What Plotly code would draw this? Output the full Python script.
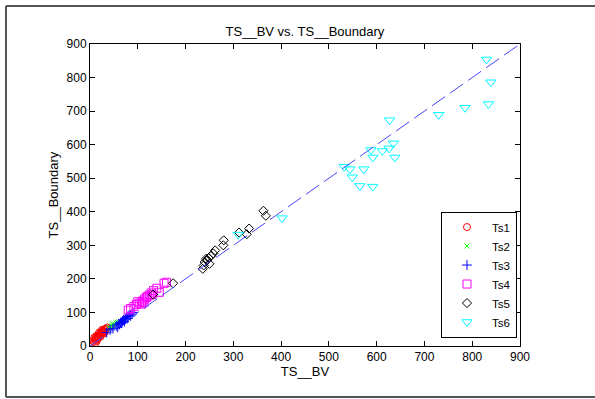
import plotly.graph_objects as go

# ---- data ----
ts1_x = [8, 10, 12, 14, 15, 17, 18, 20, 21, 23, 24, 26, 27, 29, 30, 32, 34, 36, 13, 19, 25, 11, 22, 28, 31, 16, 6, 9]
ts1_y = [12, 18, 22, 15, 28, 25, 32, 30, 38, 35, 42, 40, 46, 44, 50, 48, 52, 55, 30, 40, 48, 8, 28, 37, 42, 20, 15, 25]

ts2_x = [40, 45, 48, 52, 55, 58, 50, 43, 60, 47]
ts2_y = [55, 60, 58, 65, 68, 70, 62, 52, 72, 66]

ts3_x = [35, 42, 48, 55, 60, 64, 68, 70, 74, 76, 80, 82, 85, 88, 62, 72, 78, 66, 90, 58]
ts3_y = [40, 48, 52, 60, 66, 70, 74, 78, 80, 85, 88, 92, 90, 95, 64, 72, 82, 68, 100, 56]

ts4_x = [160, 155, 140, 133, 128, 124, 118, 114, 110, 104, 97, 92, 85, 80, 120, 130, 108, 113, 100, 145]
ts4_y = [190, 187, 172, 165, 158, 152, 144, 140, 134, 128, 124, 118, 112, 107, 148, 153, 125, 130, 132, 160]

ts5_x = [363, 368, 333, 328, 312, 280, 279, 262, 258, 253, 248, 245, 240, 250, 238, 243, 236, 174, 132]
ts5_y = [403, 388, 350, 333, 338, 315, 300, 285, 276, 268, 262, 255, 250, 245, 240, 260, 230, 187, 153]

ts6_x = [830, 839, 834, 785, 730, 627, 635, 626, 612, 588, 592, 638, 573, 532, 544, 549, 565, 592, 310, 402]
ts6_y = [854, 786, 721, 710, 689, 673, 604, 589, 581, 584, 562, 562, 527, 534, 527, 503, 477, 475, 332, 381]

ref_x = [0, 900]
ref_y = [0, 900]

axis_ticks = [0, 100, 200, 300, 400, 500, 600, 700, 800, 900]

series = [
    ("Ts1", ts1_x, ts1_y, "circle-open", "#ff0000", 7),
    ("Ts2", ts2_x, ts2_y, "x-thin-open", "#00ff00", 5),
    ("Ts3", ts3_x, ts3_y, "cross-thin-open", "#0000ff", 7),
    ("Ts4", ts4_x, ts4_y, "square-open", "#ff00ff", 8),
    ("Ts5", ts5_x, ts5_y, "diamond-open", "#000000", 7),
    ("Ts6", ts6_x, ts6_y, "triangle-down-open", "#00ffff", 9),
]

FONT = "Liberation Sans, Arial, sans-serif"

fig = go.Figure()
for name, xs, ys, sym, col, sz in series:
    fig.add_trace(go.Scatter(
        x=xs, y=ys, mode="markers", name=name,
        marker=dict(symbol=sym, color=col, size=sz, line=dict(color=col, width=1)),
    ))

fig.add_trace(go.Scatter(
    x=ref_x, y=ref_y, mode="lines", showlegend=False,
    line=dict(color="rgb(70,70,255)", width=1, dash="16px,6px"),
))

axis_common = dict(
    range=[0, 900], tickvals=axis_ticks, ticktext=[str(t) for t in axis_ticks],
    ticks="inside", ticklen=5, tickcolor="black", tickwidth=1,
    showline=True, linecolor="black", linewidth=1, mirror="ticks",
    showgrid=False, zeroline=False,
    tickfont=dict(family=FONT, size=12, color="black"),
)

x_left = -84 / 430
x_right = 1.3
y_bot = -51 / 302
y_top = 1 + 38 / 302
border = dict(color="#555555", width=2)

fig.update_layout(
    width=595, height=399,
    paper_bgcolor="white", plot_bgcolor="white",
    margin=dict(l=90, r=75, t=44, b=53),
    title=dict(text="TS__BV vs. TS__Boundary", x=0.5125, xanchor="center", y=0.922, yanchor="middle",
               font=dict(family=FONT, size=13, color="black")),
    xaxis=dict(axis_common, title=dict(text="TS__BV", standoff=3,
                                       font=dict(family=FONT, size=13, color="black"))),
    yaxis=dict(axis_common, title=dict(text="TS__Boundary", standoff=5,
                                       font=dict(family=FONT, size=13, color="black"))),
    legend=dict(x=0.993, xanchor="right", y=0.028, yanchor="bottom",
                bgcolor="white", bordercolor="black", borderwidth=1,
                font=dict(family=FONT, size=11.5, color="black"),
                tracegroupgap=0, itemwidth=40),
    shapes=[
        dict(type="line", xref="paper", yref="paper", x0=x_left, x1=x_left, y0=y_bot, y1=y_top, line=border, layer="below"),
        dict(type="line", xref="paper", yref="paper", x0=x_left, x1=x_right, y0=y_top, y1=y_top, line=border, layer="below"),
        dict(type="line", xref="paper", yref="paper", x0=x_left, x1=x_right, y0=y_bot, y1=y_bot, line=border, layer="below"),
    ],
)

fig.write_html("out.html", config={"displayModeBar": False},
               post_script="document.body.style.margin='0px';")
